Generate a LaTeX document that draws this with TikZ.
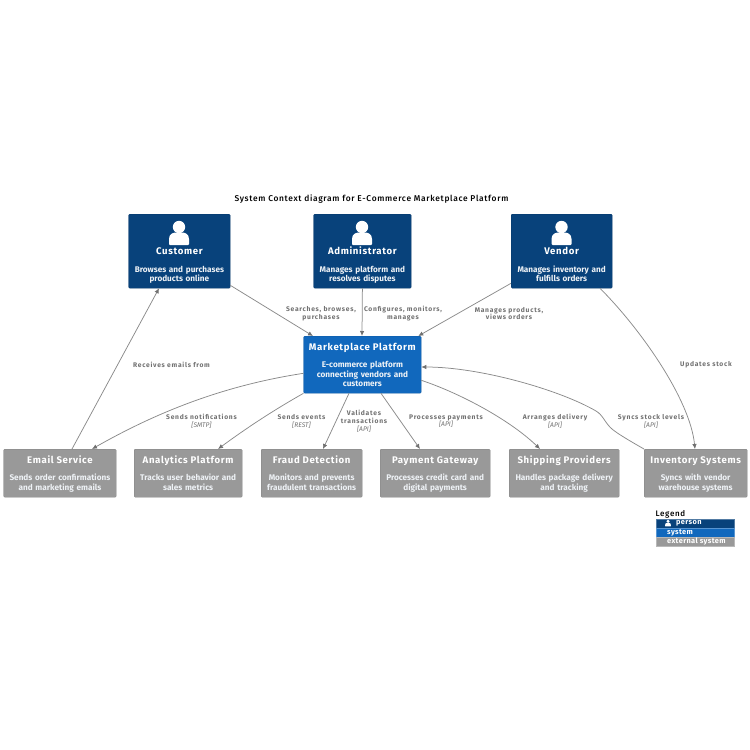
\documentclass[tikz,border=0pt]{standalone}
\usepackage{fontspec}
\setmainfont{Fira Sans}
\newfontfamily\titlef[LetterSpace=8]{Fira Sans Medium}
\newfontfamily\namef[LetterSpace=7]{Fira Sans}
\newfontfamily\relf[LetterSpace=11]{Fira Sans}
\newfontfamily\legf[LetterSpace=5]{Fira Sans}
\usetikzlibrary{arrows.meta,calc}
\definecolor{personc}{HTML}{08427B}
\definecolor{systemc}{HTML}{1168BD}
\definecolor{extc}{HTML}{999999}
\definecolor{linec}{HTML}{8A8A8A}
\definecolor{labc}{HTML}{707070}
\definecolor{descc}{HTML}{EEF2F6}
\newcommand{\boxcontent}[2]{{\namef\fontsize{9.6}{11}\selectfont\bfseries #1}\\[8.6pt]{\fontsize{8.2}{9.2}\selectfont\bfseries\color{descc}#2\rule[-2pt]{0pt}{2pt}}}
\newcommand{\extcontent}[2]{\boxcontent{\rule{0pt}{9pt}#1}{#2}}
\newcommand{\syscontent}[2]{\boxcontent{\rule{0pt}{9pt}#1}{#2}}
\newcommand{\rellab}[1]{{\relf\fontsize{6.7}{8}\selectfont\bfseries\color{labc}#1}}
\newcommand{\reltech}[1]{{\fontsize{6.7}{6.7}\selectfont\itshape\color{labc}[#1]}}
\tikzset{
 x=1pt,y=-1pt,
 basebox/.style={rounded corners=1pt,inner sep=0pt,text=white,align=center,anchor=north west,font=\fontsize{8.2}{9.2}\selectfont},
 personbox/.style={basebox,fill=personc,draw=personc!85!black,line width=.3pt,minimum height=74pt},
 sysbox/.style={basebox,fill=systemc,draw=systemc!85!black,line width=.3pt,text width=117.5pt,minimum height=57pt},
 extbox/.style={basebox,fill=extc,draw=extc!85!black,line width=.3pt,minimum height=48pt},
 rel/.style={draw=linec,line width=.75pt,-{Latex[length=5pt,width=4.5pt,color=labc]}},
 lab/.style={inner sep=0pt,align=center,text=labc,text width=130pt,font=\fontsize{6.7}{7.8}\selectfont},
 legrow/.style={anchor=north west,inner sep=0pt,minimum width=77.5pt,minimum height=9pt,line width=.4pt,text=white},
 personicon/.pic={
  \fill[white] (0,-18) circle (6.2);
  \fill[white] (-10,-1) -- (-10,-6) .. controls (-10,-11) and (-6,-12.5) .. (-3,-12.5) -- (3,-12.5) .. controls (6,-12.5) and (10,-11) .. (10,-6) -- (10,-1) .. controls (10,0) .. (9,0) -- (-9,0) .. controls (-10,0) .. (-10,-1) -- cycle;
 },
}
\begin{document}
\begin{tikzpicture}
\useasboundingbox (0,0) rectangle (750,750);
\node[inner sep=0pt,anchor=center] (title) at (371.5,199) {{\titlef\fontsize{8.4}{10}\selectfont System Context diagram for E-Commerce Marketplace Platform}};
% persons
\node[personbox,text width=101.5pt] (cust) at (128.5,214) {\rule{0pt}{26pt}\\\boxcontent{Customer}{Browses and purchases\\products online}};
\node[personbox,text width=97.5pt] (admin) at (313.5,214) {\rule{0pt}{26pt}\\\boxcontent{Administrator}{Manages platform and\\resolves disputes}};
\node[personbox,text width=101pt] (vendor) at (511,214) {\rule{0pt}{26pt}\\\boxcontent{Vendor}{Manages inventory and\\fulfills orders}};
\pic at (179,245) {personicon};
\pic at (362,245) {personicon};
\pic at (561.5,245) {personicon};
% system
\node[sysbox] (market) at (303.5,336) {\syscontent{Marketplace Platform}{E-commerce platform\\connecting vendors and\\customers}};
% externals
\node[extbox,text width=112.5pt] (email) at (3.5,449) {\extcontent{Email Service}{Sends order confirmations\\and marketing emails}};
\node[extbox,text width=108pt] (analytics) at (134,449) {\extcontent{Analytics Platform}{Tracks user behavior and\\sales metrics}};
\node[extbox,text width=101pt] (fraud) at (261,449) {\extcontent{Fraud Detection}{Monitors and prevents\\fraudulent transactions}};
\node[extbox,text width=110pt] (payment) at (380,449) {\extcontent{Payment Gateway}{Processes credit card and\\digital payments}};
\node[extbox,text width=110pt] (shipping) at (509,449) {\extcontent{Shipping Providers}{Handles package delivery\\and tracking}};
\node[extbox,text width=103pt] (inventory) at (644,449) {\extcontent{Inventory Systems}{Syncs with vendor\\warehouse systems}};
% connectors
\draw[rel] ([yshift=3pt]cust.south east) -- ([xshift=9.5pt]market.north west);
\draw[rel] (admin.south) -- ([xshift=58.5pt]market.north west);
\draw[rel] ([yshift=5pt]vendor.south west) -- ([xshift=-3pt]market.north east);
\draw[rel] ([xshift=68.5pt]email.north west) -- ([xshift=30.5pt]cust.south west);
\draw[rel] ([yshift=20pt]market.south west) .. controls +(-85,13) and +(60,-34) .. ([xshift=88.5pt]email.north west);
\draw[rel] (market.south west) .. controls +(-30,17) and +(30,-22) .. ([xshift=84pt]analytics.north west);
\draw[rel] ([xshift=45.5pt]market.south west) -- ([xshift=62pt]fraud.north west);
\draw[rel] ([xshift=77.5pt]market.south west) -- ([xshift=40pt]payment.north west);
\draw[rel] ([yshift=13pt]market.south east) .. controls +(39,13) and +(-30,-29) .. ([xshift=31pt]shipping.north west);
\draw[rel] (inventory.north west) .. controls +(-14,-8) and +(6,5) .. (612,429) .. controls +(-7,-6) and +(7,4) .. (596,411) .. controls +(-36,-21) and +(59,0) .. ([yshift=-31pt]market.north east);
\draw[rel] ([xshift=89pt]vendor.south west) .. controls +(40,40) and +(-5,-50) .. ([xshift=51pt]inventory.north west);
% labels
\node[lab] (l1) at (321,313.5) {\rellab{Searches, browses,\\purchases}};
\node[lab] (l2) at (403,313.5) {\rellab{Configures, monitors,\\manages}};
\node[lab] (l3) at (509,313.5) {\rellab{Manages products,\\views orders}};
\node[lab] (l4) at (171.5,365) {\rellab{Receives emails from}};
\node[lab] (l5) at (706,365) {\rellab{Updates stock}};
\node[lab] (l6) at (201.5,421) {\rellab{Sends notifications}\\\reltech{SMTP}};
\node[lab] (l7) at (301.5,421) {\rellab{Sends events}\\\reltech{REST}};
\node[lab] (l8) at (364,421) {\rellab{Validates\\transactions}\\\reltech{API}};
\node[lab] (l9) at (446,421) {\rellab{Processes payments}\\\reltech{API}};
\node[lab] (l10) at (555,421) {\rellab{Arranges delivery}\\\reltech{API}};
\node[lab] (l11) at (651,421) {\rellab{Syncs stock levels}\\\reltech{API}};
% legend
\node[inner sep=0pt,anchor=west] (legt) at (655.5,514) {{\titlef\fontsize{8}{10}\selectfont Legend}};
\node[legrow,fill=personc,draw=personc!70!white] (lp) at (656,519) {};
\node[legrow,fill=systemc,draw=systemc!70!white] (ls) at (656,528) {};
\node[legrow,fill=extc,draw=extc!70!white] (le) at (656,537) {};
\node[inner sep=0pt,anchor=west,text=white] (lpt) at (676,523.5) {\legf\fontsize{7.4}{8}\selectfont\bfseries person};
\node[inner sep=0pt,anchor=west,text=white] (lst) at (667,532.5) {\legf\fontsize{7.4}{8}\selectfont\bfseries system};
\node[inner sep=0pt,anchor=west,text=white] (let) at (667,541.5) {\legf\fontsize{7.4}{8}\selectfont\bfseries external system};
\pic[scale=.28] at (668,526.3) {personicon};
\end{tikzpicture}
\end{document}
